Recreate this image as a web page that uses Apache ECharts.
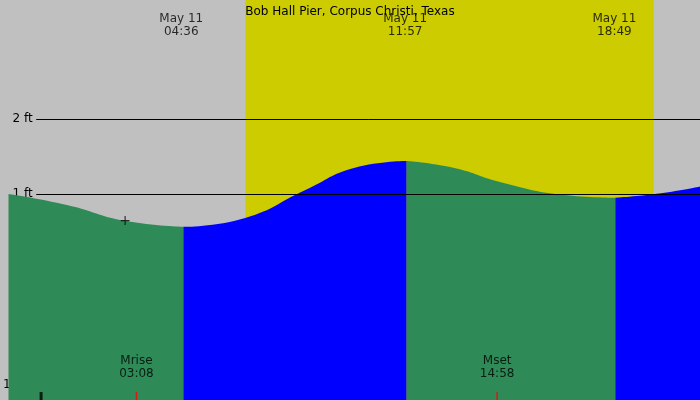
<!DOCTYPE html><html><head><meta charset="utf-8">
<script src="https://cdn.jsdelivr.net/npm/echarts@6/dist/echarts.min.js"></script>
<style>html,body{margin:0;background:#c0c0c0}#c{width:700px;height:400px}</style></head><body><div id="c"></div>
<script>
const title = "Bob Hall Pier, Corpus Christi, Texas";
const fall1 = [[-1.07,1.0],[0.88,0.85],[2.76,0.64],[4.67,0.56]];
const rise1 = [[4.67,0.56],[6.7,0.68],[8.66,1.05],[10.3,1.35],[12.0,1.44]];
const fall2 = [[12.0,1.44],[13.53,1.35],[15.15,1.15],[17.1,0.99],[18.85,0.95]];
const rise2 = [[18.85,0.95],[20.35,1.01],[21.63,1.1]];
const sunTimes = [[4.6,"May 11\n04:36"],[11.95,"May 11\n11:57"],[18.82,"May 11\n18:49"]];
const moonTimes = [[3.13,"Mrise\n03:08"],[14.97,"Mset\n14:58"]];
const daylight = [6.71, 20.11];
const hourTicks = [-1,0,1,2,3,4,5,6,7,8,9,10,11,12,13,14,15,16,17,18,19,20,21];
const ftTicks = [-1,0,1,2];
const nowPoint = [2.76,0.64];
const XMIN=-1.07, XMAX=21.63, YMIN=-1.75, YMAX=3.587;
const font = 'DejaVu Sans';
function area(d,color){return {type:'line',data:d,smooth:true,symbol:'none',lineStyle:{width:0},areaStyle:{color:color,opacity:1,origin:'start'},z:2};}
const chart = echarts.init(document.getElementById('c'));
chart.setOption({
  backgroundColor:'#c0c0c0', animation:false,
  title:{text:title,left:'center',top:1,textStyle:{fontFamily:font,fontSize:12,fontWeight:'normal',color:'#000'}},
  grid:{left:0,right:0,top:0,bottom:0},
  xAxis:{type:'value',min:XMIN,max:XMAX,splitLine:{show:false},axisLine:{show:false},
    axisTick:{inside:true,length:8,customValues:hourTicks,lineStyle:{color:'#000'}},
    axisLabel:{inside:true,margin:9,customValues:hourTicks,fontFamily:font,fontSize:12,color:'#000',
      formatter:v=>{let h=((Math.round(v)%12)+12)%12; if(h===0)h=12; return String(h).padStart(2,'0');}}},
  yAxis:{type:'value',min:YMIN,max:YMAX,splitLine:{show:false},axisLine:{show:false},axisTick:{show:false},
    axisLabel:{inside:true,customValues:ftTicks,margin:4,fontFamily:font,fontSize:12,color:'#000',formatter:v=>v+' ft'}},
  series:[
    {type:'line',data:[],markArea:{silent:true,itemStyle:{color:'#cccc00'},data:[[{xAxis:daylight[0]},{xAxis:daylight[1]}]]},z:1},
    area(fall1,'#2e8b57'),area(rise1,'#0000ff'),area(fall2,'#2e8b57'),area(rise2,'#0000ff'),
    {type:'line',data:[],z:5,markLine:{silent:true,symbol:'none',label:{show:false},lineStyle:{color:'#000',width:1,type:'solid'},
      data:ftTicks.filter(v=>v>0).map(v=>[{coord:[-0.16,v]},{coord:[XMAX,v]}])}},
    {type:'scatter',symbolSize:0,z:6,data:sunTimes.map(s=>({value:[s[0],3.25],name:s[1]})),
      label:{show:true,position:'inside',formatter:p=>p.name,fontFamily:font,fontSize:12,color:'#000',lineHeight:13}},
    {type:'scatter',symbolSize:0,z:6,data:moonTimes.map(s=>({value:[s[0],-1.32],name:s[1]})),
      label:{show:true,position:'inside',formatter:p=>p.name,fontFamily:font,fontSize:12,color:'#000',lineHeight:13}},
    {type:'scatter',symbol:'rect',symbolSize:[1.5,8],z:7,itemStyle:{color:'#ff0000'},data:moonTimes.map(s=>[s[0],-1.697])},
    {type:'scatter',symbol:'rect',symbolSize:[3,8],z:7,itemStyle:{color:'#000'},data:[[0,-1.697]]},
    {type:'scatter',symbolSize:0,z:7,data:[nowPoint],label:{show:true,position:'inside',formatter:'+',fontFamily:font,fontSize:14,color:'#000'}}
  ]
});
</script></body></html>
